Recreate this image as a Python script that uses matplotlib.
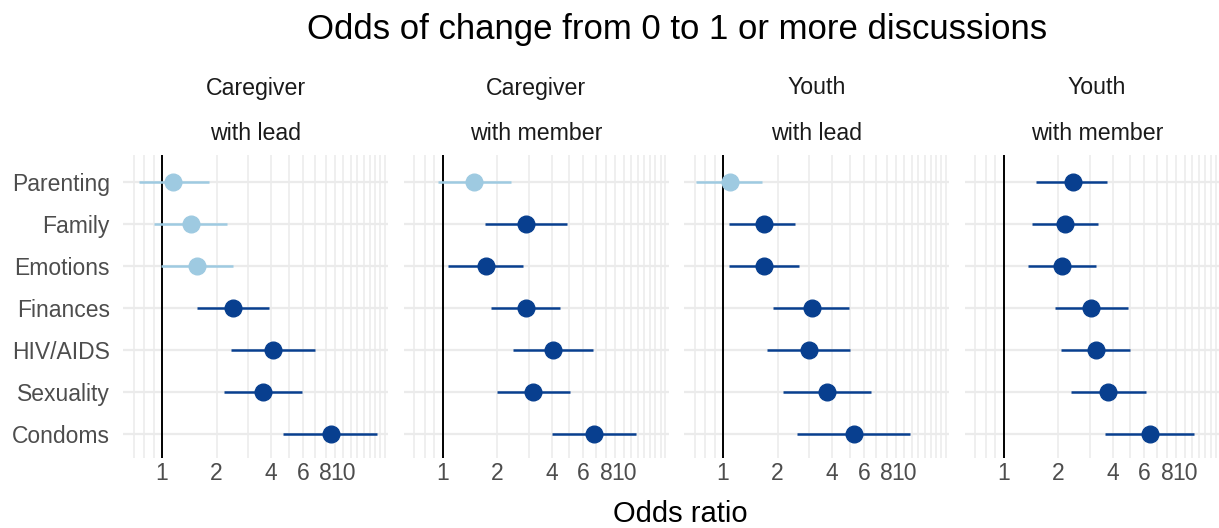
import matplotlib
matplotlib.use("Agg")
import matplotlib.pyplot as plt
import numpy as np

plt.rcParams['font.family'] = ['Liberation Sans', 'DejaVu Sans']

categories = ["Parenting", "Family", "Emotions", "Finances", "HIV/AIDS", "Sexuality", "Condoms"]
strip_top = ["Caregiver", "Caregiver", "Youth", "Youth"]
strip_bottom = ["with lead", "with member", "with lead", "with member"]

# odds ratios, lower CI, upper CI per panel
or_cg_lead = [1.15, 1.44, 1.57, 2.48, 4.09, 3.60, 8.55]
lo_cg_lead = [0.75, 0.90, 0.99, 1.56, 2.41, 2.20, 4.64]
hi_cg_lead = [1.82, 2.28, 2.46, 3.92, 6.98, 5.91, 15.3]

or_cg_mem = [1.49, 2.90, 1.74, 2.90, 4.08, 3.17, 6.88]
lo_cg_mem = [0.94, 1.71, 1.07, 1.86, 2.45, 2.00, 4.02]
hi_cg_mem = [2.40, 4.86, 2.80, 4.43, 6.76, 5.06, 11.7]

or_y_lead = [1.09, 1.68, 1.69, 3.10, 3.00, 3.74, 5.30]
lo_y_lead = [0.71, 1.08, 1.08, 1.88, 1.76, 2.15, 2.57]
hi_y_lead = [1.64, 2.49, 2.62, 4.99, 5.05, 6.54, 10.8]

or_y_mem = [2.41, 2.19, 2.10, 3.06, 3.24, 3.80, 6.44]
lo_y_mem = [1.52, 1.43, 1.37, 1.92, 2.09, 2.36, 3.65]
hi_y_mem = [3.72, 3.31, 3.24, 4.89, 5.01, 6.12, 11.2]

panels = [(or_cg_lead, lo_cg_lead, hi_cg_lead),
          (or_cg_mem, lo_cg_mem, hi_cg_mem),
          (or_y_lead, lo_y_lead, hi_y_lead),
          (or_y_mem, lo_y_mem, hi_y_mem)]

xticks = [1, 2, 4, 6, 8, 10]
LIGHT = "#9ecae1"
DARK = "#083f8f"

W, H = 1219, 528
fig = plt.figure(figsize=(W / 100, H / 100), dpi=100)
fig.patch.set_facecolor("white")

grid_x = [0.7, 0.8, 0.9] + list(range(1, 18))
y_pos = np.arange(len(categories))
AX_FS = 16.5

for i, (ors, los, his) in enumerate(panels):
    left = 123 + i * 280.5
    ax = fig.add_axes([left / W, (H - 458) / H, 265 / W, (458 - 155) / H])
    ax.set_xscale("log")
    ax.set_xlim(0.609, 17.7)
    ax.set_ylim(len(categories) - 0.43, -0.64)
    for s in ax.spines.values():
        s.set_visible(False)
    for gx in grid_x:
        ax.axvline(gx, color="#ebebeb", lw=1.1, zorder=0)
    for yy in y_pos:
        ax.axhline(yy, color="#ebebeb", lw=1.6, zorder=0)
    ax.axvline(1, color="black", lw=1.4, zorder=1)
    for yy, o, lo, hi in zip(y_pos, ors, los, his):
        sig = lo > 1
        col = DARK if sig else LIGHT
        ax.plot([lo, hi], [yy, yy], color=col, lw=1.8, solid_capstyle="butt", zorder=2)
        ax.plot([o], [yy], "o", color=col, ms=12, mec=col, zorder=3)
    ax.set_xticks(xticks)
    ax.set_xticklabels([str(t) for t in xticks], fontsize=AX_FS, color="#4d4d4d")
    ax.xaxis.set_minor_locator(matplotlib.ticker.NullLocator())
    ax.tick_params(axis="x", length=0, pad=3)
    ax.tick_params(axis="y", length=0)
    ax.set_yticks(y_pos)
    if i == 0:
        ax.set_yticklabels(categories, fontsize=AX_FS, color="#4d4d4d")
        ax.tick_params(axis="y", pad=9.5)
    else:
        ax.set_yticklabels([])
    cx = (left + 132.5) / W
    fig.text(cx, 1 - 88 / H, strip_top[i], ha="center", va="center",
             fontsize=16.7, color="#1a1a1a")
    fig.text(cx, 1 - 134 / H, strip_bottom[i], ha="center",
             va="center", fontsize=16.7, color="#1a1a1a")

fig.text(677 / W, 1 - 30 / H, "Odds of change from 0 to 1 or more discussions", ha="center",
         va="center", fontsize=25, color="black")
fig.text(680 / W, 1 - 514 / H, "Odds ratio", ha="center", va="center", fontsize=21, color="black")

fig.savefig("out.png", dpi=100)
